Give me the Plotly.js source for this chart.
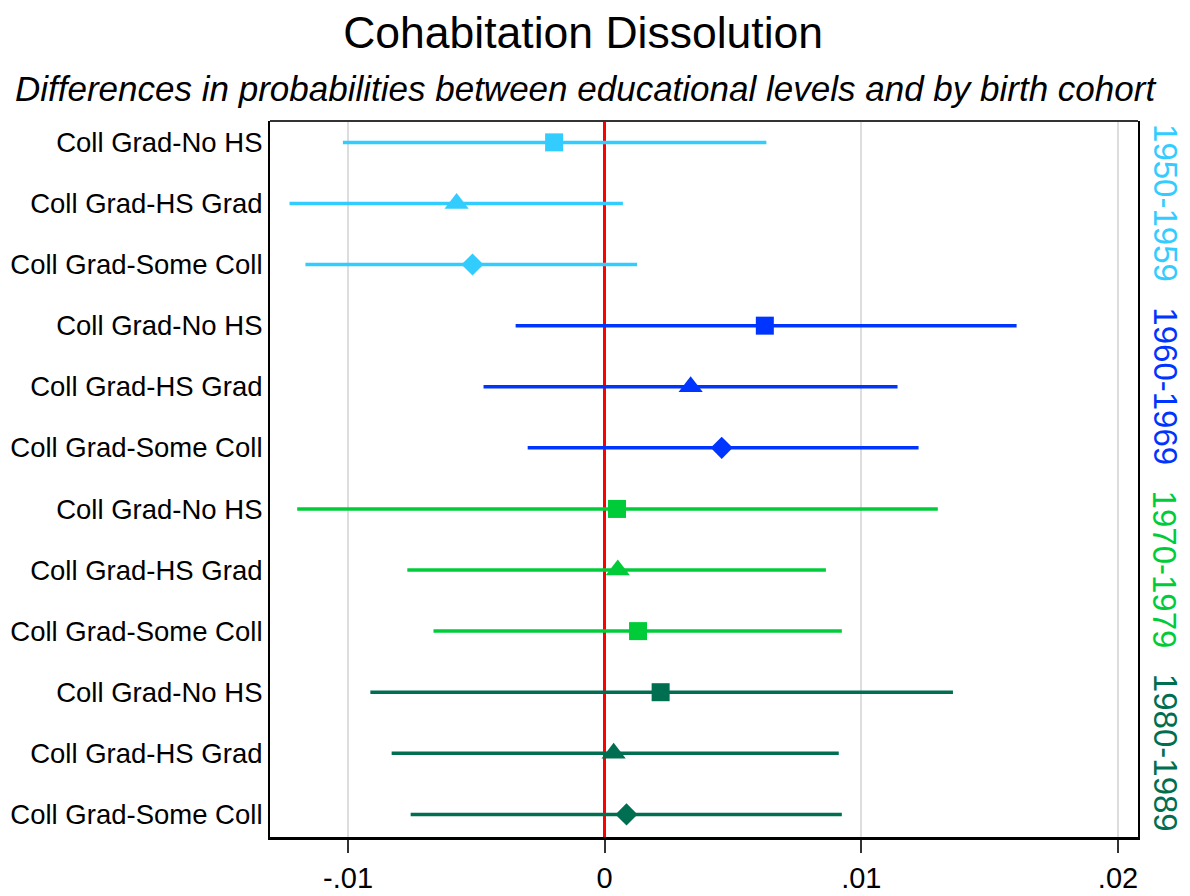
<!DOCTYPE html>
<html>
<head>
<meta charset="utf-8">
<script src="https://cdn.plot.ly/plotly-3.0.1.min.js"></script>
<style>html,body{margin:0;padding:0;background:#fff;}#chart{width:1190px;height:896px;}</style>
</head>
<body>
<div id="chart"></div>
<script>
// ---- data ----
const rowLabels = [
  "Coll Grad-No HS", "Coll Grad-HS Grad", "Coll Grad-Some Coll",
  "Coll Grad-No HS", "Coll Grad-HS Grad", "Coll Grad-Some Coll",
  "Coll Grad-No HS", "Coll Grad-HS Grad", "Coll Grad-Some Coll",
  "Coll Grad-No HS", "Coll Grad-HS Grad", "Coll Grad-Some Coll"
];
const cohorts = ["1950-1959", "1960-1969", "1970-1979", "1980-1989"];
const estimates = [
  -0.00197, -0.00577, -0.00515,
   0.00624,  0.00335,  0.00456,
   0.00048,  0.00051,  0.00130,
   0.00218,  0.00035,  0.00085
];
const lowerCI = [
  -0.01020, -0.01228, -0.01166,
  -0.00347, -0.00472, -0.00300,
  -0.01198, -0.00769, -0.00667,
  -0.00913, -0.00830, -0.00756
];
const upperCI = [
   0.00630,  0.00071,  0.00126,
   0.01605,  0.01141,  0.01223,
   0.01298,  0.00862,  0.00924,
   0.01357,  0.00912,  0.00924
];
const markerShapes = [
  "square", "triangle-up", "diamond",
  "square", "triangle-up", "diamond",
  "square", "triangle-up", "square",
  "square", "triangle-up", "diamond"
];
const xTickVals = [-0.01, 0, 0.01, 0.02];
const xTickText = ["-.01", "0", ".01", ".02"];

// ---- styling ----
const cohortColors = ["#33CCFF", "#0035FF", "#00CC3A", "#006E50"];
const sizeFor = s => (s === "diamond" ? 17 : s === "triangle-up" ? 21 : 18);
const FONT = "Liberation Sans, Arial, sans-serif";

const traces = cohorts.map((c, g) => {
  const idx = [3*g, 3*g+1, 3*g+2];
  return {
    type: "scatter",
    mode: "markers",
    name: c,
    x: idx.map(i => estimates[i]),
    y: idx.map(i => i + 1),
    error_x: {
      type: "data",
      symmetric: false,
      array: idx.map(i => upperCI[i] - estimates[i]),
      arrayminus: idx.map(i => estimates[i] - lowerCI[i]),
      color: cohortColors[g],
      thickness: 3.5,
      width: 0
    },
    marker: {
      color: cohortColors[g],
      opacity: 1,
      symbol: idx.map(i => markerShapes[i]),
      size: idx.map(i => sizeFor(markerShapes[i])),
      line: {width: 0}
    },
    hoverinfo: "x+y",
    showlegend: false
  };
});

const annotations = cohorts.map((c, g) => ({
  text: c,
  xref: "paper", yref: "y",
  x: 1.0316, y: 3*g + 2,
  xanchor: "center", yanchor: "middle",
  textangle: 90,
  showarrow: false,
  font: {family: FONT, size: 33, color: cohortColors[g]}
}));
annotations.push({
  text: "<i>Differences in probabilities between educational levels and by birth cohort</i>",
  xref: "paper", yref: "paper",
  x: 0.363, y: 1.046,
  xanchor: "center", yanchor: "middle",
  showarrow: false,
  font: {family: FONT, size: 35, color: "#000"}
});

const layout = {
  width: 1190, height: 896,
  paper_bgcolor: "#fff", plot_bgcolor: "#fff",
  margin: {l: 270, r: 52, t: 121, b: 59, pad: 0},
  title: {
    text: "Cohabitation Dissolution",
    font: {family: FONT, size: 44.5, color: "#000"},
    x: 0.49, xanchor: "center",
    y: 0.964, yanchor: "middle", yref: "container"
  },
  xaxis: {
    range: [-0.01304, 0.02078],
    tickvals: xTickVals, ticktext: xTickText,
    showgrid: true, gridcolor: "#DDDDDD", gridwidth: 2,
    zeroline: true, zerolinecolor: "#FF0000", zerolinewidth: 3,
    showline: true, linecolor: "#000", linewidth: 3,
    ticks: "outside", ticklen: 13, tickwidth: 2, tickcolor: "#333",
    tickfont: {family: FONT, size: 29, color: "#000"},
    fixedrange: true
  },
  yaxis: {
    range: [12.37, 0.65],
    tickvals: rowLabels.map((_, i) => i + 1), ticktext: rowLabels,
    showgrid: false, zeroline: false,
    showline: true, mirror: true, linecolor: "#000", linewidth: 2,
    ticks: "", ticklen: 0,
    tickfont: {family: FONT, size: 27.5, color: "#000"},
    fixedrange: true
  },
  annotations: annotations,
  shapes: [{
    type: "line", xref: "paper", yref: "paper",
    x0: 0, x1: 1, y0: 1, y1: 1,
    line: {color: "#333", width: 2}
  }]
};

Plotly.newPlot("chart", traces, layout, {displayModeBar: false, staticPlot: true});
</script>
</body>
</html>
